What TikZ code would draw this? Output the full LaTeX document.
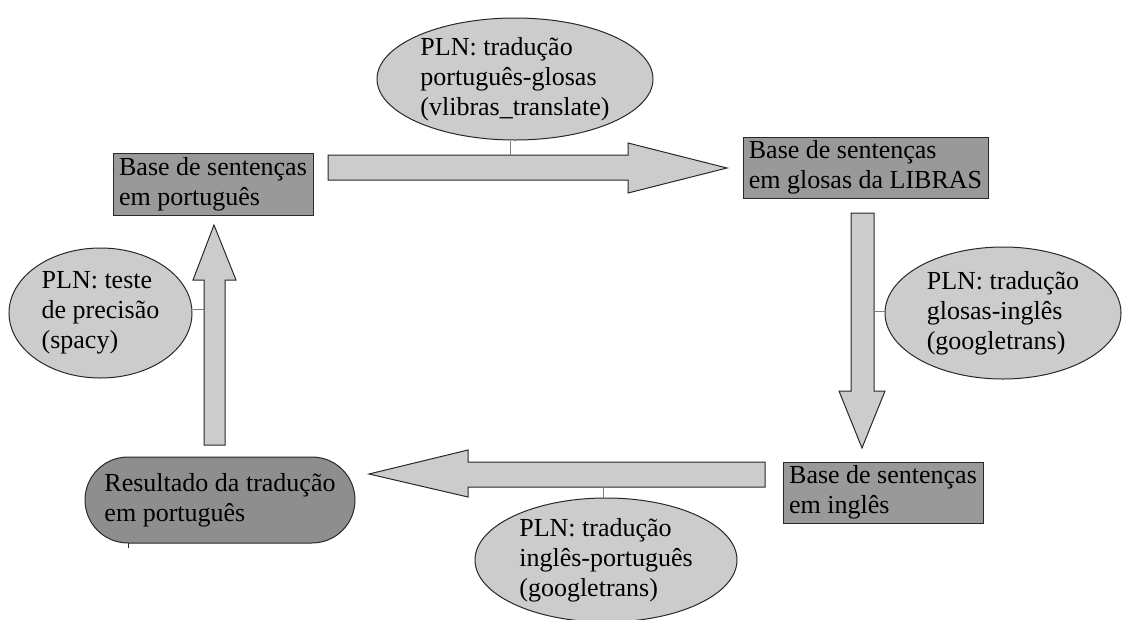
\documentclass[tikz,border=0pt]{standalone}
\usepackage{fontspec}
\setmainfont{Liberation Serif}
\usetikzlibrary{shapes.geometric}
\definecolor{lightfill}{RGB}{204,204,204}
\definecolor{boxfill}{RGB}{153,153,153}
\definecolor{roundfill}{RGB}{142,142,142}
\definecolor{edge}{RGB}{40,40,40}
\definecolor{linkgray}{RGB}{128,128,128}
\tikzset{
  every node/.style={font=\fontsize{26}{30}\selectfont},
  basebox/.style={draw=edge, line width=1pt, fill=boxfill, rectangle, inner sep=0pt, align=left},
  resultbox/.style={draw=edge, line width=1pt, fill=roundfill, rectangle, rounded corners=43pt, inner sep=0pt, align=left},
  toolellipse/.style={draw=edge, line width=1pt, fill=lightfill, ellipse, inner sep=0pt},
  tooltext/.style={inner sep=0pt, align=left},
  blockarrow/.style={draw=edge, line width=1pt, fill=lightfill},
  link/.style={draw=linkgray, line width=1pt}
}
\begin{document}
\begin{tikzpicture}[x=1pt, y=-1pt]
\useasboundingbox (0,0) rectangle (1125,619);
\clip (0,0) rectangle (1125,619);

% sentence bases
\node[basebox, minimum width=200pt, minimum height=62pt] (pt) at (213,184) {Base de sentenças\\em português};
\node[basebox, minimum width=245pt, minimum height=61pt] (gl) at (865.5,167.5) {Base de sentenças\\em glosas da LIBRAS};
\node[basebox, minimum width=200pt, minimum height=61pt] (en) at (883,492.5) {Base de sentenças\\em inglês};
\node[resultbox, minimum width=270pt, minimum height=86pt] (res) at (220,500) {Resultado da tradução\\em português};
\draw[edge, line width=1pt] (128,543) -- (128,548);

% processing steps
\node[toolellipse, minimum width=276pt, minimum height=122pt] (e1) at (515,79) {};
\node[tooltext] (t1) at (e1.center) {PLN: tradução\\português-glosas\\(vlibras\_translate)};
\node[toolellipse, minimum width=236pt, minimum height=132pt] (e2) at (1003,313) {};
\node[tooltext] (t2) at (e2.center) {PLN: tradução\\glosas-inglês\\(googletrans)};
\node[toolellipse, minimum width=262pt, minimum height=124pt] (e3) at (606,560) {};
\node[tooltext] (t3) at (e3.center) {PLN: tradução\\inglês-português\\(googletrans)};
\node[toolellipse, minimum width=183pt, minimum height=130pt] (e4) at (100.5,313) {};
\node[tooltext] (t4) at (e4.center) {PLN: teste\\de precisão\\(spacy)};

% block arrows between the bases
\draw[blockarrow] (328,155) -- (628,155) -- (628,143) -- (727,168) -- (628,193) -- (628,180) -- (328,180) -- cycle;
\draw[blockarrow] (851,213) -- (874,213) -- (874,391) -- (885,391) -- (862,448) -- (839,391) -- (851,391) -- cycle;
\draw[blockarrow] (765,462) -- (468,462) -- (468,450) -- (369,474) -- (468,497) -- (468,487) -- (765,487) -- cycle;
\draw[blockarrow] (204,445) -- (204,280) -- (193,280) -- (214,225) -- (236,280) -- (225,280) -- (225,445) -- cycle;

% attachment points on the arrows
\coordinate (a1) at (510,155);
\coordinate (a2) at (874,311);
\coordinate (a3) at (603,487);
\coordinate (a4) at (204,309);

% steps linked to their arrows
\draw[link] (e1.south -| a1) -- (a1);
\draw[link] (a2) -- (a2 -| e2.west);
\draw[link] (a3) -- (a3 |- e3.north);
\draw[link] (a4 -| e4.east) -- (a4);
\end{tikzpicture}
\end{document}
